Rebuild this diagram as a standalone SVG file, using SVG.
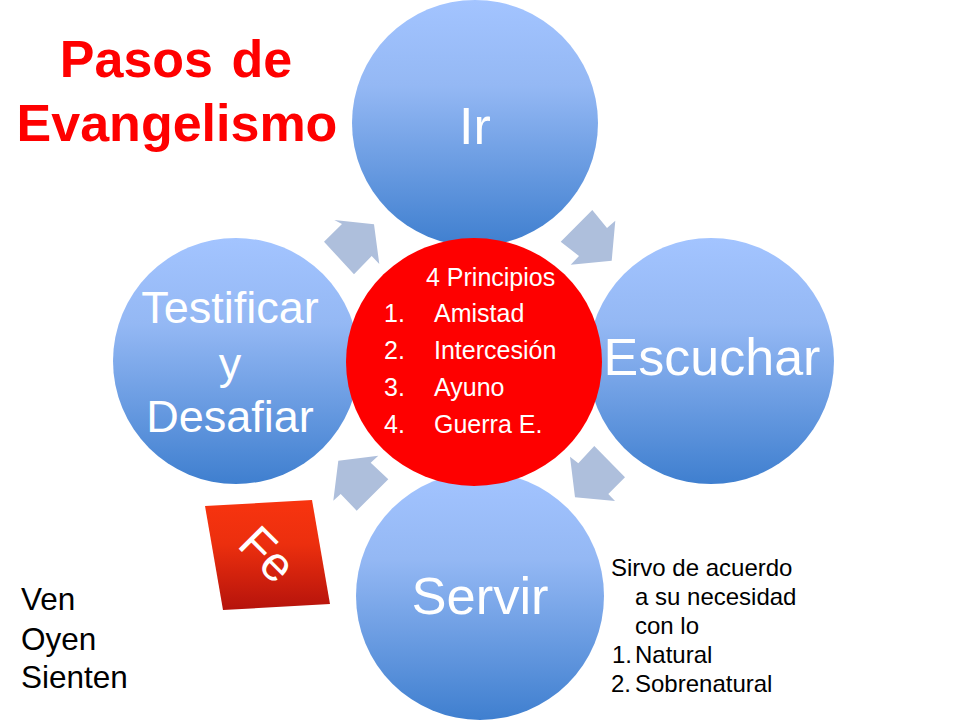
<svg xmlns="http://www.w3.org/2000/svg" width="960" height="720" viewBox="0 0 960 720">
<defs>
<linearGradient id="blue" x1="0" y1="0" x2="0" y2="1"><stop offset="0" stop-color="#a3c4ff"/><stop offset="0.35" stop-color="#94b8f4"/><stop offset="1" stop-color="#3f7fcf"/></linearGradient>
<linearGradient id="redg" x1="0" y1="0" x2="0" y2="1"><stop offset="0" stop-color="#f8340f"/><stop offset="0.4" stop-color="#ec2f0e"/><stop offset="1" stop-color="#b5130c"/></linearGradient>
</defs>
<style>
text{font-family:"Liberation Sans",Arial,sans-serif}
.c{fill:url(#blue)}
.big{fill:#fff;text-anchor:middle}
.w{fill:#fff;font-size:25px}
.k{fill:#000;font-size:24px}
.l{fill:#000;font-size:31.5px}
.arrow{fill:#aebfdc}
</style>
<rect width="960" height="720" fill="#fff"/>
<g id="connectors">
<polygon class="arrow" points="560.7,241.7 592.3,210 607,228 615.3,220.7 611.7,260.7 570.7,264.7 579,256"/>
<polygon class="arrow" points="324,241.7 342,224 334.3,220 374,224.3 379.3,264 371.7,256 354,274.3"/>
<polygon class="arrow" points="333.3,500.7 338.3,460.7 378.3,455.7 370.7,462.7 388.3,479.3 356.7,510.7 340.7,494"/>
<polygon class="arrow" points="570,456.7 578.3,463.3 594.3,446 625,477.3 608.3,494 615,501 575,497.3"/>
</g>
<g id="node-ir"><circle class="c" cx="475" cy="123" r="123"/><text class="big" x="475" y="144" font-size="52">Ir</text></g>
<g id="node-escuchar"><circle class="c" cx="711" cy="361" r="123"/><text class="big" x="712" y="375" font-size="52">Escuchar</text></g>
<g id="node-servir"><circle class="c" cx="480" cy="596" r="124"/><text class="big" x="480" y="614" font-size="52.5">Servir</text></g>
<g id="node-testificar"><circle class="c" cx="236" cy="361" r="123"/>
<text class="big" x="230" y="323" font-size="45">Testificar</text><text class="big" x="230" y="379" font-size="45">y</text><text class="big" x="230" y="432" font-size="45">Desafiar</text></g>
<g id="node-principios"><ellipse cx="474" cy="362" rx="128" ry="124" fill="#fe0000"/>
<text class="w" x="426" y="286">4 Principios</text>
<text class="w" x="384" y="322">1.</text><text class="w" x="434" y="322">Amistad</text>
<text class="w" x="384" y="359">2.</text><text class="w" x="434" y="359">Intercesión</text>
<text class="w" x="384" y="396">3.</text><text class="w" x="434" y="396">Ayuno</text>
<text class="w" x="384" y="433">4.</text><text class="w" x="434" y="433">Guerra E.</text></g>
<g id="node-fe"><polygon points="205,506 312,500 330,604 223,610" fill="url(#redg)"/>
<text transform="translate(236,546) rotate(45)" fill="#fff" font-size="48">Fe</text></g>
<g id="title" fill="#fe0000" font-weight="bold" font-size="52" text-anchor="middle">
<text x="176" y="77" word-spacing="4">Pasos de</text><text x="177" y="141">Evangelismo</text></g>
<g id="note-left"><text class="l" x="21" y="610">Ven</text><text class="l" x="21" y="650">Oyen</text><text class="l" x="21" y="688">Sienten</text></g>
<g id="note-right">
<text class="k" x="611" y="576">Sirvo de acuerdo</text>
<text class="k" x="635" y="605">a su necesidad</text>
<text class="k" x="635" y="634">con lo</text>
<text class="k" x="612" y="663">1.</text><text class="k" x="635" y="663">Natural</text>
<text class="k" x="611" y="692">2.</text><text class="k" x="635" y="692">Sobrenatural</text></g>
</svg>
